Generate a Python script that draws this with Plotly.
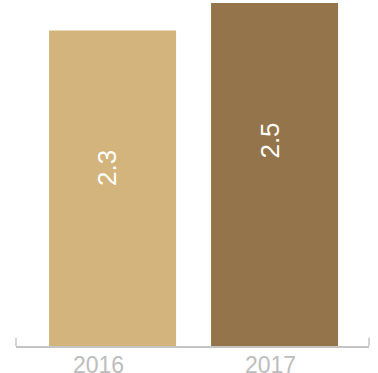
import plotly.graph_objects as go

# Vehicles, in millions, by year
years = ["2016", "2017"]
vehicles = [2.3, 2.5]
bar_colors = ["#D3B47C", "#94744A"]
unit_label = "Millions of vehicles"

# Horizontal nudge (in category units) of each year label under its bar
year_label_offset = [-0.086, -0.022]

fig = go.Figure()
fig.add_trace(go.Bar(
    x=years,
    y=vehicles,
    marker=dict(color=bar_colors, line=dict(width=0)),
    width=0.784,
    hoverinfo="skip",
))

# Rotated value labels inside each bar, a fixed distance below the bar top
for i, v in enumerate(vehicles):
    fig.add_annotation(
        x=i, y=v, xref="x", yref="y",
        text=f"{v:.1f}", textangle=-90, showarrow=False,
        xanchor="center", yanchor="middle", yshift=-138, xshift=-5,
        font=dict(family="Liberation Sans", size=26, color="white"),
    )

# Year labels below the baseline
for i, (yr, off) in enumerate(zip(years, year_label_offset)):
    fig.add_annotation(
        x=i + off, y=0, xref="x", yref="y",
        text=yr, showarrow=False,
        xanchor="center", yanchor="middle", yshift=-19,
        font=dict(family="Liberation Sans", size=23, color="#bdbdbd"),
    )

# Unit label above the plot
fig.add_annotation(
    x=0, y=1, xref="paper", yref="paper",
    text=f"<b>{unit_label}</b>", showarrow=False,
    xanchor="left", yanchor="bottom", yshift=-3,
    font=dict(family="Liberation Sans", size=14, color="#9a9a9a"),
)

# End ticks of the baseline
for px in (0, 1):
    fig.add_shape(type="line", xref="paper", yref="y",
                  x0=px, x1=px, y0=0, y1=0.06,
                  line=dict(color="#c4c4c4", width=1.5))

fig.update_layout(
    width=378, height=373,
    margin=dict(l=16, r=9, t=0, b=27),
    paper_bgcolor="white", plot_bgcolor="white",
    showlegend=False,
    xaxis=dict(
        type="category", range=[-0.596, 1.583], automargin=False,
        showline=True, linecolor="#c4c4c4", linewidth=1.5,
        ticks="", showgrid=False, zeroline=False, showticklabels=False,
    ),
    yaxis=dict(
        range=[0, 2.522], automargin=False,
        showticklabels=False, showline=False, ticks="",
        showgrid=False, zeroline=False,
    ),
)

fig.write_html("out.html")
